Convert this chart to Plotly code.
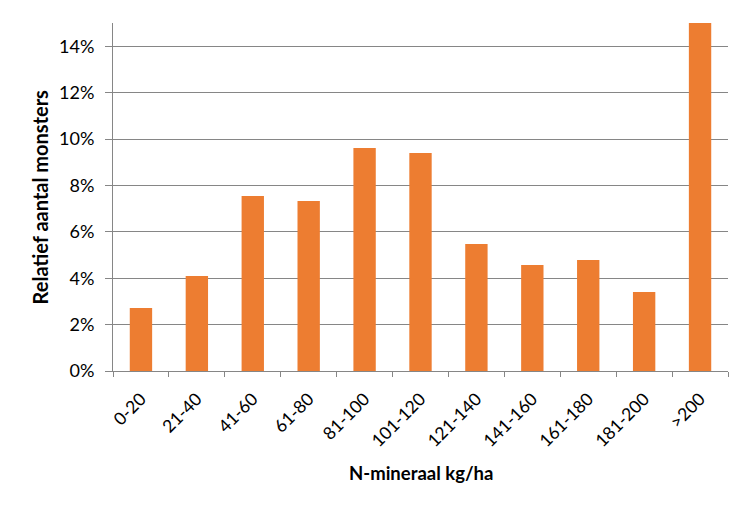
import plotly.graph_objects as go

categories = ["0-20", "21-40", "41-60", "61-80", "81-100", "101-120",
              "121-140", "141-160", "161-180", "181-200", ">200"]
values = [0.0272, 0.0410, 0.0754, 0.0733, 0.0961, 0.0940,
          0.0547, 0.0457, 0.0478, 0.0341, 0.150]
y_ticks = [0, 0.02, 0.04, 0.06, 0.08, 0.10, 0.12, 0.14]

font_family = "Lato, Calibri, Carlito, sans-serif"

fig = go.Figure(go.Bar(x=categories, y=values, marker_color="#ED7D31",
                       marker_line_width=0))

fig.update_layout(
    width=750, height=510,
    margin=dict(l=113, r=22, t=23, b=139),
    plot_bgcolor="white", paper_bgcolor="white",
    bargap=0.6,
    showlegend=False,
    font=dict(family=font_family, color="#000000", size=16),
    annotations=[
        dict(text="<b>N-mineraal kg/ha</b>", xref="paper", yref="paper",
             x=0.5, y=-0.293, xanchor="center", yanchor="middle",
             showarrow=False, font=dict(size=18.5)),
        dict(text="<b>Relatief aantal monsters</b>", xref="paper", yref="paper",
             x=-0.118, y=0.5, xanchor="center", yanchor="middle", textangle=-90,
             showarrow=False, font=dict(size=20)),
    ],
)
fig.update_xaxes(
    automargin=False,
    showline=True, linecolor="#868686", linewidth=1,
    ticks="outside", tickson="boundaries", ticklen=5, tickcolor="#868686",
    tickangle=-45, tickfont=dict(size=17.5), ticklabelstandoff=10,
)
fig.update_yaxes(
    automargin=False,
    range=[0, 0.15], tickvals=y_ticks, tickformat=".0%",
    showgrid=True, gridcolor="#868686", gridwidth=1,
    showline=True, linecolor="#868686", linewidth=1,
    ticks="outside", ticklen=7, tickcolor="#868686",
    tickfont=dict(size=18), zeroline=False, ticklabelstandoff=7,
)

fig.write_html("out.html", config={"displayModeBar": False},
               post_script="document.body.style.margin='0';")
